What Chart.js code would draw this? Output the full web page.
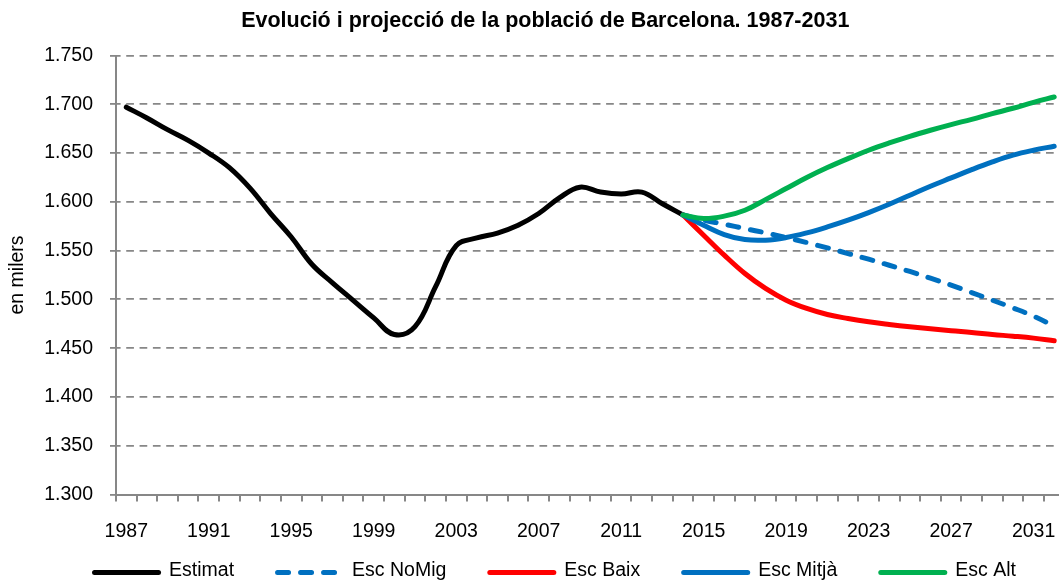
<!DOCTYPE html>
<html>
<head>
<meta charset="utf-8">
<script src="https://cdn.jsdelivr.net/npm/chart.js@4.4.1/dist/chart.umd.min.js"></script>
<style>
  html, body { margin: 0; padding: 0; background: #fff; overflow: hidden; }
  #wrap { position: relative; width: 1096px; height: 581px; }
</style>
</head>
<body>
<div id="wrap"><canvas id="c"></canvas></div>
<script>
// ---- Data ----
const titleText = 'Evolució i projecció de la població de Barcelona. 1987-2031';
const yAxisTitle = 'en milers';

const years = ['1987','1988','1989','1990','1991','1992','1993','1994','1995','1996',
  '1997','1998','1999','2000','2001','2002','2003','2004','2005','2006',
  '2007','2008','2009','2010','2011','2012','2013','2014','2015','2016',
  '2017','2018','2019','2020','2021','2022','2023','2024','2025','2026',
  '2027','2028','2029','2030','2031','2032'];

const tickYears = ['1987','1991','1995','1999','2003','2007','2011','2015','2019','2023','2027','2031'];

// Estimat: 1987-2014
const estimat = [1697, 1686, 1674, 1663, 1650, 1635, 1614, 1588, 1564, 1536,
  1517, 1499, 1481, 1464, 1472, 1513, 1555, 1563, 1568, 1576,
  1588, 1604, 1615, 1610, 1608, 1610, 1598, 1586.5];

// Projections: 2014-2032
const projStart = '2014';
const escNoMig = [1586.5, 1581.2, 1577.1, 1572.6, 1568.2, 1563.4, 1558.3, 1552.8, 1547, 1541.2,
  1535, 1528.6, 1521.7, 1514.6, 1507, 1499.2, 1491.3, 1482.8, 1472.6];
const escBaix = [1586.5, 1565.8, 1545.3, 1526.5, 1511.2, 1499.2, 1490.7, 1484.5, 1480.4, 1477,
  1474.3, 1471.9, 1469.8, 1467.8, 1466.1, 1464, 1462.3, 1460.3, 1457.5];
const escMitja = [1586.5, 1576, 1566.5, 1561.3, 1560.7, 1563.4, 1568.2, 1574.3, 1581.2, 1589,
  1597.5, 1606.8, 1616, 1624.5, 1633, 1640.9, 1647.8, 1652.9, 1657];
const escAlt = [1586.5, 1582.9, 1585.3, 1591.4, 1602.3, 1613.6, 1624.9, 1635.1, 1644.3, 1652.9,
  1660.4, 1667.2, 1673.4, 1679.2, 1684.6, 1690.4, 1695.9, 1702, 1707.5];

const seriesLabels = ['Estimat', 'Esc NoMig', 'Esc Baix', 'Esc Mitjà', 'Esc Alt'];
const seriesColors = ['#000000', '#0070C0', '#FF0000', '#0070C0', '#00B050'];

// ---- Helpers ----
const startIdx = years.indexOf(projStart);
function padProj(arr) { return new Array(startIdx).fill(null).concat(arr); }
function padEst(arr) { return arr.concat(new Array(years.length - arr.length).fill(null)); }
function fmtThousands(v) {
  const s = String(Math.round(v));
  return s.replace(/\B(?=(\d{3})+(?!\d))/g, '.');
}

const FAMILY = "'Liberation Sans', Arial, sans-serif";
const GRID = '#878787';

const legendPlugin = {
  id: 'bottomLegend',
  afterDraw(chart) {
    const ctx = chart.ctx;
    ctx.save();
    ctx.font = '19.5px ' + FAMILY;
    const lineLen = 69, gap = 8, itemGap = 41, centerX = 554, y = 571;
    const items = chart.data.datasets.map(ds => ({ ds, w: ctx.measureText(ds.label).width }));
    const total = items.reduce((a, it) => a + lineLen + gap + it.w, 0) + itemGap * (items.length - 1);
    let x = centerX - total / 2;
    items.forEach(it => {
      const ds = it.ds;
      ctx.beginPath();
      ctx.strokeStyle = ds.borderColor;
      ctx.lineWidth = ds.borderWidth;
      ctx.lineCap = 'round';
      ctx.setLineDash(ds.borderDash || []);
      ctx.moveTo(x + 2.5, y + 1.5);
      ctx.lineTo(x + lineLen - 2.5, y + 1.5);
      ctx.stroke();
      ctx.setLineDash([]);
      ctx.fillStyle = '#000';
      ctx.textBaseline = 'middle';
      ctx.textAlign = 'left';
      ctx.fillText(ds.label, x + lineLen + gap, y);
      x += lineLen + gap + it.w + itemGap;
    });
    ctx.restore();
  }
};

const seriesData = [padEst(estimat), padProj(escNoMig), padProj(escBaix), padProj(escMitja), padProj(escAlt)];

const datasets = seriesLabels.map((lab, i) => ({
  label: lab,
  data: seriesData[i],
  borderColor: seriesColors[i],
  backgroundColor: seriesColors[i],
  borderWidth: 5,
  borderCapStyle: 'round',
  borderJoinStyle: 'round',
  borderDash: lab === 'Esc NoMig' ? [11, 12] : [],
  pointRadius: 0,
  pointHoverRadius: 0,
  tension: 0.4,
  fill: false,
  order: seriesLabels.length - i
}));

new Chart(document.getElementById('c'), {
  type: 'line',
  data: { labels: years, datasets },
  plugins: [legendPlugin],
  options: {
    responsive: true,
    maintainAspectRatio: false,
    animation: false,
    devicePixelRatio: 1,
    layout: { padding: { left: 26, right: 31.5, top: 0, bottom: 0 } },
    plugins: {
      legend: { display: false },
      tooltip: { enabled: false },
      title: {
        display: true,
        text: titleText,
        color: '#000',
        font: { family: FAMILY, size: 21.5, weight: 'bold', lineHeight: 1.2 },
        padding: { top: 8.2, bottom: 21.5 }
      }
    },
    scales: {
      x: {
        type: 'category',
        offset: true,
        grid: { offset: true, drawOnChartArea: false, tickLength: 7, color: GRID, lineWidth: 2 },
        border: { display: true, color: GRID, width: 2 },
        ticks: {
          autoSkip: false, maxRotation: 0, minRotation: 0, padding: 18, color: '#000',
          font: { family: FAMILY, size: 19.5 },
          callback: function (v) { const l = this.getLabelForValue(v); return tickYears.includes(l) ? l : ''; }
        },
        afterFit: s => { s.height = 86.5; }
      },
      y: {
        min: 1300, max: 1750,
        ticks: {
          stepSize: 50, padding: 17, color: '#000',
          font: { family: FAMILY, size: 19.5 },
          callback: v => fmtThousands(v)
        },
        grid: { color: GRID, lineWidth: 1.8, tickLength: 6, tickBorderDash: [] },
        border: { display: true, color: GRID, width: 2, dash: [7.7, 5.63], dashOffset: 4.1 },
        title: {
          display: true, text: yAxisTitle, color: '#000',
          font: { family: FAMILY, size: 19.5, lineHeight: 1.2 },
          padding: { top: -19.7, bottom: 0 }
        },
        afterFit: s => { s.width = 90; }
      }
    }
  }
});
</script>
</body>
</html>
